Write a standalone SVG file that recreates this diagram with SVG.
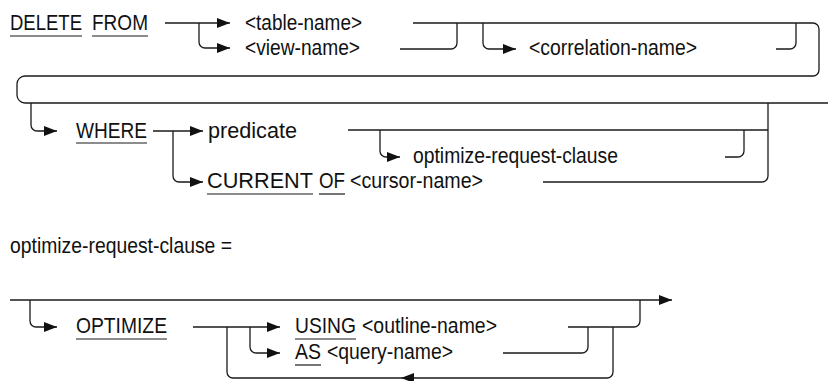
<svg xmlns="http://www.w3.org/2000/svg" width="828" height="381" viewBox="0 0 828 381">
  <style>
    .t { font-family: "Liberation Sans", Arial, sans-serif; font-size: 22px; fill: #111; }
    .c { fill: none; stroke: #1a1a1a; stroke-width: 1.3; }
    .u { stroke: #1a1a1a; stroke-width: 1.2; }
  </style>
  <defs>
    <marker id="arr" markerUnits="userSpaceOnUse" markerWidth="14" markerHeight="11" refX="13" refY="5" orient="auto">
      <path d="M0,0 L13,5 L0,10 z" fill="#111"/>
    </marker>
  </defs>

  <rect width="828" height="381" fill="#fff"/>

  <!-- connectors -->
  <g id="connectors" class="c">
    <!-- DELETE FROM row -->
    <path d="M165,23 H230" marker-end="url(#arr)"/>
    <path d="M199,23 V42 A6,6 0 0 0 205,48 H230" marker-end="url(#arr)"/>
    <path d="M413,23 H813 A6,6 0 0 1 819,29 V70 A6,6 0 0 1 813,76 H25 A8,8 0 0 0 17,84 V95 A8,8 0 0 0 25,103 H828"/>
    <path d="M400,49 H451 A6,6 0 0 0 457,43 V23"/>
    <path d="M483,23 V43 A6,6 0 0 0 489,49 H516" marker-end="url(#arr)"/>
    <path d="M776,49 H790 A6,6 0 0 0 796,43 V23"/>

    <!-- WHERE row -->
    <path d="M31,103 V125 A6,6 0 0 0 37,131 H57" marker-end="url(#arr)"/>
    <path d="M153,131 H203" marker-end="url(#arr)"/>
    <path d="M173,131 V176 A6,6 0 0 0 179,182 H203" marker-end="url(#arr)"/>
    <path d="M348,130 H768"/>
    <path d="M768,103 V176 A6,6 0 0 1 762,182 H543"/>
    <path d="M380,130 V151 A6,6 0 0 0 386,157 H400" marker-end="url(#arr)"/>
    <path d="M725,157 H738 A6,6 0 0 0 744,151 V130"/>

    <!-- optimize-request-clause -->
    <path d="M10,300 H672" marker-end="url(#arr)"/>
    <path d="M30,300 V321 A6,6 0 0 0 36,327 H57" marker-end="url(#arr)"/>
    <path d="M193,327 H280" marker-end="url(#arr)"/>
    <path d="M250,327 V347 A6,6 0 0 0 256,353 H280" marker-end="url(#arr)"/>
    <path d="M568,327 H634 A6,6 0 0 0 640,321 V300"/>
    <path d="M503,353 H582 A6,6 0 0 0 588,347 V327"/>
    <path d="M613,327 V372 A6,6 0 0 1 607,378 H233 A6,6 0 0 1 227,372 V327"/>
    <path d="M401,378 L414,373 L414,383 z" fill="#111" stroke="none"/>
  </g>

  <!-- statement keywords and operands -->
  <g id="delete-from">
    <text class="t" x="10" y="30" textLength="72" lengthAdjust="spacingAndGlyphs">DELETE</text>
    <line class="u" x1="10" y1="36" x2="82" y2="36"/>
    <text class="t" x="92" y="30" textLength="56" lengthAdjust="spacingAndGlyphs">FROM</text>
    <line class="u" x1="92" y1="36" x2="148" y2="36"/>
  </g>
  <g id="table-name">
    <text class="t" x="245" y="30" textLength="117" lengthAdjust="spacingAndGlyphs">&lt;table-name&gt;</text>
  </g>
  <g id="view-name">
    <text class="t" x="245" y="55" textLength="115" lengthAdjust="spacingAndGlyphs">&lt;view-name&gt;</text>
  </g>
  <g id="correlation-name">
    <text class="t" x="529" y="55" textLength="168" lengthAdjust="spacingAndGlyphs">&lt;correlation-name&gt;</text>
  </g>
  <g id="where">
    <text class="t" x="76" y="137.5" textLength="71" lengthAdjust="spacingAndGlyphs">WHERE</text>
    <line class="u" x1="76" y1="143" x2="147" y2="143"/>
  </g>
  <g id="predicate">
    <text class="t" x="208" y="137.5" textLength="89" lengthAdjust="spacingAndGlyphs">predicate</text>
  </g>
  <g id="optimize-ref">
    <text class="t" x="413" y="163" textLength="205" lengthAdjust="spacingAndGlyphs">optimize-request-clause</text>
  </g>
  <g id="current-of">
    <text class="t" x="207" y="188" textLength="106" lengthAdjust="spacingAndGlyphs">CURRENT</text>
    <line class="u" x1="207" y1="194" x2="313" y2="194"/>
    <text class="t" x="319" y="188" textLength="26" lengthAdjust="spacingAndGlyphs">OF</text>
    <line class="u" x1="319" y1="194" x2="345" y2="194"/>
    <text class="t" x="350" y="188" textLength="133" lengthAdjust="spacingAndGlyphs">&lt;cursor-name&gt;</text>
  </g>

  <!-- clause definition -->
  <g id="clause-title">
    <text class="t" x="10" y="253" textLength="222" lengthAdjust="spacingAndGlyphs">optimize-request-clause =</text>
  </g>
  <g id="optimize">
    <text class="t" x="76" y="333" textLength="91" lengthAdjust="spacingAndGlyphs">OPTIMIZE</text>
    <line class="u" x1="76" y1="339" x2="167" y2="339"/>
  </g>
  <g id="using">
    <text class="t" x="295" y="333" textLength="61" lengthAdjust="spacingAndGlyphs">USING</text>
    <line class="u" x1="295" y1="339" x2="356" y2="339"/>
    <text class="t" x="362" y="333" textLength="135" lengthAdjust="spacingAndGlyphs">&lt;outline-name&gt;</text>
  </g>
  <g id="as">
    <text class="t" x="295" y="359" textLength="26" lengthAdjust="spacingAndGlyphs">AS</text>
    <line class="u" x1="295" y1="365" x2="321" y2="365"/>
    <text class="t" x="327" y="359" textLength="126" lengthAdjust="spacingAndGlyphs">&lt;query-name&gt;</text>
  </g>
</svg>
